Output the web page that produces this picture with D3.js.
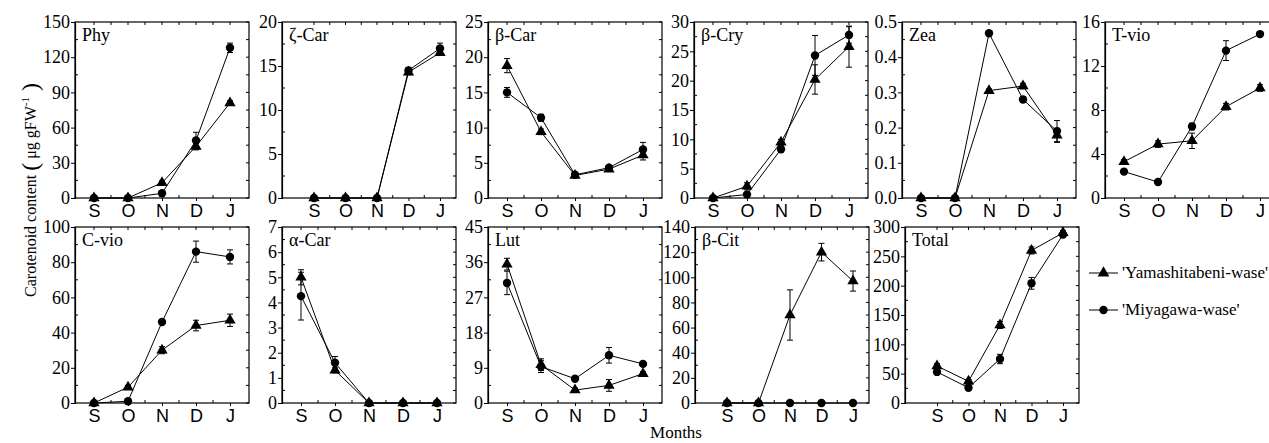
<!DOCTYPE html>
<html><head><meta charset="utf-8">
<script src="https://cdn.jsdelivr.net/npm/d3@7/dist/d3.min.js"></script>
<style>
body{margin:0;background:#fff;}
svg{display:block;}
</style></head>
<body>
<svg id="chart" width="1269" height="443"></svg>
<script>
// ---------- data ----------
const months = ["S", "O", "N", "D", "J"];
const panelNames = ["Phy", "ζ-Car", "β-Car", "β-Cry", "Zea", "T-vio", "C-vio", "α-Car", "Lut", "β-Cit", "Total"];
const yMaxes  = [150, 20, 25, 30, 0.5, 16, 100, 7, 45, 140, 300];
const yMajorStep = [30, 5, 5, 5, 0.1, 4, 20, 1, 9, 20, 50];
const seriesNames = ["'Yamashitabeni-wase'", "'Miyagawa-wase'"];

const yamMeans = [
  [0, 0, 13, 44, 81],
  [0, 0, 0, 14.3, 16.5],
  [18.8, 9.4, 3.2, 4.1, 6.1],
  [0, 2.0, 9.5, 20.2, 25.8],
  [0, 0, 0.305, 0.318, 0.178],
  [3.3, 4.9, 5.2, 8.3, 10.0],
  [0, 9, 30, 44, 47],
  [5.0, 1.3, 0, 0, 0],
  [35.5, 9.8, 3.3, 4.5, 7.5],
  [0, 0, 70, 120, 97],
  [63, 37, 133, 260, 290]
];
const yamErrors = [
  [0, 0, 1.5, 3, 2],
  [0, 0, 0, 0.3, 0.3],
  [1.0, 0.4, 0.2, 0.2, 0.7],
  [0, 0.6, 0.5, 2.5, 3.5],
  [0, 0, 0.005, 0.008, 0.02],
  [0.2, 0.3, 0.7, 0.3, 0.3],
  [0, 1, 2, 3, 3.5],
  [0.3, 0.1, 0, 0, 0],
  [1.5, 1.5, 0.5, 1.5, 0.5],
  [0, 0, 20, 7, 8],
  [4, 3, 6, 6, 4]
];
const miyMeans = [
  [0, 0, 4, 49, 128],
  [0, 0, 0, 14.5, 17.0],
  [15.0, 11.4, 3.3, 4.3, 6.9],
  [0, 0.6, 8.3, 24.3, 27.8],
  [0, 0, 0.468, 0.28, 0.19],
  [2.4, 1.45, 6.5, 13.4, 14.9],
  [0, 1, 46, 86, 83],
  [4.25, 1.6, 0, 0, 0],
  [30.7, 9.3, 6.2, 12.2, 10.0],
  [0, 0, 0, 0, 0],
  [53, 26, 75, 204, 287]
];
const miyErrors = [
  [0, 0, 1, 7, 4],
  [0, 0, 0, 0.3, 0.6],
  [0.7, 0.5, 0.2, 0.2, 1.0],
  [0, 0.3, 0.4, 3.4, 1.4],
  [0, 0, 0.005, 0.008, 0.03],
  [0.2, 0.1, 0.3, 0.9, 0.2],
  [0, 0.5, 1, 6, 4],
  [0.95, 0.25, 0, 0, 0],
  [3, 1.5, 0.5, 2, 0.5],
  [0, 0, 0, 0, 0],
  [3, 3, 8, 10, 4]
];

// ---------- layout ----------
const rowTops = [22, 227];
const panelW = 174, panelH = 176;
const panelLefts = [[75, 282, 488, 694, 902, 1105], [75, 282, 488, 695, 905]];
const shiftedX = new Set(["ζ-Car", "β-Cit", "Total"]);
const SERIF = '"Liberation Serif", "Times New Roman", serif';
const SANS = '"Liberation Sans", Arial, sans-serif';

const svg = d3.select("#chart");

panelNames.forEach((name, i) => {
  const row = i < 6 ? 0 : 1;
  const col = i < 6 ? i : i - 6;
  const left = panelLefts[row][col];
  const top = rowTops[row];
  const g = svg.append("g").attr("transform", `translate(${left},${top})`);

  const x = d3.scalePoint().domain(months)
    .range(shiftedX.has(name) ? [32, panelW - 16] : [19, panelW - 19]);
  const step = x.step();
  const y = d3.scaleLinear().domain([0, yMaxes[i]]).range([panelH, 0]);
  const st = yMajorStep[i];
  const nMaj = Math.round(yMaxes[i] / st);
  const majors = d3.range(nMaj + 1).map(k => +(k * st).toFixed(6));
  const minors = d3.range(nMaj).map(k => +((k + 0.5) * st).toFixed(6));
  const fmt = name === "Zea" ? d3.format(".1f") : d3.format("d");

  g.append("rect").attr("x", 0).attr("y", 0).attr("width", panelW).attr("height", panelH)
    .attr("fill", "none").attr("stroke", "#000").attr("stroke-width", 1.2);

  const ax = g.append("g").call(d3.axisLeft(y).tickValues(majors).tickFormat(fmt).tickSize(4).tickPadding(1));
  ax.attr("font-family", null).attr("font-size", null);
  ax.select(".domain").attr("stroke-width", 1.2);
  ax.selectAll("text").style("font-family", SERIF).style("font-size", "18px").attr("fill", "#000");
  g.selectAll(".minL").data(minors).join("line")
    .attr("x1", 0).attr("x2", 3).attr("y1", d => y(d)).attr("y2", d => y(d)).attr("stroke", "#000");
  g.selectAll(".tR").data(majors.concat(minors)).join("line")
    .attr("x1", panelW).attr("x2", panelW - 3).attr("y1", d => y(d)).attr("y2", d => y(d)).attr("stroke", "#000");

  const bx = g.append("g").attr("transform", `translate(0,${panelH})`)
    .call(d3.axisBottom(x).tickSize(3).tickPadding(3));
  bx.attr("font-family", null).attr("font-size", null);
  bx.select(".domain").remove();
  bx.selectAll("text").style("font-family", SANS).style("font-size", "18px").attr("fill", "#000");
  const mids = months.slice(1).map(m => x(m) - step / 2);
  g.selectAll(".mB").data(mids).join("line")
    .attr("x1", d => d).attr("x2", d => d).attr("y1", panelH).attr("y2", panelH - 3).attr("stroke", "#000");
  g.selectAll(".tT").data(months.map(m => x(m)).concat(mids)).join("line")
    .attr("x1", d => d).attr("x2", d => d).attr("y1", 0).attr("y2", 3).attr("stroke", "#000");

  g.append("text").attr("x", 7).attr("y", 19).style("font-family", SERIF).style("font-size", "18px")
    .attr("fill", "#000").text(name);

  const series = [
    { means: yamMeans[i], errs: yamErrors[i], shape: "tri" },
    { means: miyMeans[i], errs: miyErrors[i], shape: "circ" }
  ];
  const line = d3.line().x((d, k) => x(months[k])).y(d => y(d));
  series.forEach(s => {
    g.append("path").attr("d", line(s.means)).attr("fill", "none").attr("stroke", "#000").attr("stroke-width", 1);
  });
  series.forEach(s => {
    const eb = s.means.map((m, k) => ({ m, e: s.errs[k], k })).filter(d => d.e > 0);
    const eg = g.append("g");
    eg.selectAll("line.v").data(eb).join("line")
      .attr("x1", d => x(months[d.k])).attr("x2", d => x(months[d.k]))
      .attr("y1", d => y(d.m - d.e)).attr("y2", d => y(d.m + d.e)).attr("stroke", "#000");
    eg.selectAll("line.t").data(eb).join("line")
      .attr("x1", d => x(months[d.k]) - 3).attr("x2", d => x(months[d.k]) + 3)
      .attr("y1", d => y(d.m + d.e)).attr("y2", d => y(d.m + d.e)).attr("stroke", "#000");
    eg.selectAll("line.b").data(eb).join("line")
      .attr("x1", d => x(months[d.k]) - 3).attr("x2", d => x(months[d.k]) + 3)
      .attr("y1", d => y(d.m - d.e)).attr("y2", d => y(d.m - d.e)).attr("stroke", "#000");
  });
  series.forEach(s => {
    if (s.shape === "circ") {
      g.selectAll(null).data(s.means).join("circle")
        .attr("cx", (d, k) => x(months[k])).attr("cy", d => y(d)).attr("r", 4.2).attr("fill", "#000");
    } else {
      g.selectAll(null).data(s.means).join("path")
        .attr("d", d3.symbol(d3.symbolTriangle, 55))
        .attr("transform", (d, k) => `translate(${x(months[k])},${y(d)})`).attr("fill", "#000");
    }
  });
});

const yt = svg.append("text").attr("transform", "translate(36,190) rotate(-90)")
  .attr("text-anchor", "middle").style("font-family", SERIF).style("font-size", "16px").attr("fill", "#000");
yt.append("tspan").text("Carotenoid content ");
yt.append("tspan").style("font-size", "24px").attr("dy", 2).text("(");
yt.append("tspan").attr("dy", -2).text(" μg gFW");
yt.append("tspan").style("font-size", "11px").attr("dy", -7).text("-1");
yt.append("tspan").style("font-size", "24px").attr("dy", 9).text(" )");

svg.append("text").attr("x", 676).attr("y", 438).attr("text-anchor", "middle")
  .style("font-family", SERIF).style("font-size", "17px").attr("fill", "#000").text("Months");

const legendYs = [273, 310];
seriesNames.forEach((nm, k) => {
  const lg = svg.append("g").attr("transform", `translate(1089,${legendYs[k]})`);
  lg.append("line").attr("x1", 0).attr("x2", 29).attr("y1", 0).attr("y2", 0).attr("stroke", "#000");
  if (k === 0) lg.append("path").attr("d", d3.symbol(d3.symbolTriangle, 60)).attr("transform", "translate(14.5,0)");
  else lg.append("circle").attr("cx", 14.5).attr("cy", 0).attr("r", 4.2);
  lg.append("text").attr("x", 33).attr("y", 5).style("font-family", SERIF).style("font-size", "17px")
    .attr("fill", "#000").text(nm);
});
</script>
</body></html>
